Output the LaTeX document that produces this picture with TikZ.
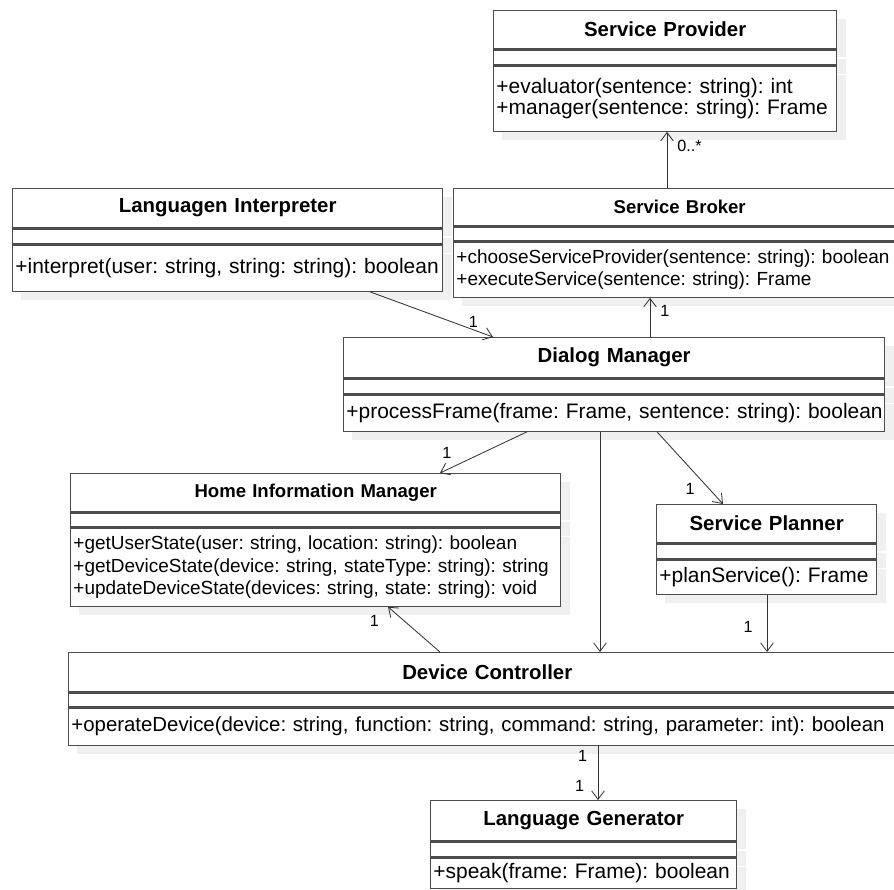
\documentclass[tikz,border=0pt]{standalone}
\usepackage{fontspec}
\setmainfont{Liberation Sans}
\usepackage{tikz}
\usetikzlibrary{arrows.meta,positioning,calc,shadows}

\tikzset{
	box/.style={draw=black!70,fill=white,line width=0.9pt,inner xsep=0.07cm,inner ysep=0pt,
		drop shadow={shadow xshift=0.22cm,shadow yshift=-0.22cm,fill=black!6,opacity=1}},
	class title/.style 2 args={box,text width=#1,minimum height=#2,align=center,
		font=\bfseries\fontsize{14.5}{17}\selectfont},
	class blank/.style 2 args={box,text width=#1,minimum height=#2},
	class ops/.style 2 args={box,text width=#1,minimum height=#2,align=left,
		font=\fontsize{14.9}{15}\selectfont\frenchspacing},
	small/.style={font=\bfseries\fontsize{13.2}{16}\selectfont},
	small ops/.style={font=\fontsize{13.5}{16}\selectfont\frenchspacing}
}

\begin{document}
\begin{tikzpicture}[->,>={Straight Barb[length=6pt,width=9pt]},x=0.025cm,y=-0.025cm]
	\useasboundingbox (0,0) rectangle (894,889);
	
	% classes
	\node[class title={8.435cm}{0.95cm},anchor=north west] (sp) at (493,10) {Service Provider};
	\node[class blank={8.435cm}{0.375cm},below=0pt of sp] (sp0) {};
	\node[class ops={8.435cm}{1.625cm},below=0pt of sp0] (sp1) {\mbox{+evaluator(sentence: string): int}\\\mbox{+manager(sentence: string): Frame}};
	
	\node[class title={10.61cm}{0.975cm},anchor=north west] (li) at (12,188) {Languagen Interpreter};
	\node[class blank={10.61cm}{0.375cm},below=0pt of li] (li0) {};
	\node[class ops={10.61cm}{1.15cm},below=0pt of li0] (li1) {\mbox{+interpret(user: string, string: string): boolean}};
	
	\node[class title={11.16cm}{0.925cm},small,anchor=north west] (sb) at (453,188) {Service Broker};
	\node[class blank={11.16cm}{0.35cm},below=0pt of sb] (sb0) {};
	\node[class ops={11.16cm}{1.375cm},small ops,below=0pt of sb0] (sb1) {\mbox{+chooseServiceProvider(sentence: string): boolean}\\\mbox{+executeService(sentence: string): Frame}};
	
	\node[class title={13.385cm}{1cm},anchor=north west] (dm) at (343,337) {Dialog Manager};
	\node[class blank={13.385cm}{0.375cm},below=0pt of dm] (dm0) {};
	\node[class ops={13.385cm}{0.9cm},below=0pt of dm0] (dm1) {\mbox{+processFrame(frame: Frame, sentence: string): boolean}};
	
	\node[class title={12.11cm}{0.95cm},small,anchor=north west] (him) at (70,473) {Home Information Manager};
	\node[class blank={12.11cm}{0.35cm},below=0pt of him] (him0) {};
	\node[class ops={12.11cm}{1.95cm},small ops,below=0pt of him0] (him1) {\mbox{+getUserState(user: string, location: string): boolean}\\\mbox{+getDeviceState(device: string, stateType: string): string}\\\mbox{+updateDeviceState(devices: string, state: string): void}};
	
	\node[class title={5.36cm}{0.95cm},anchor=north west] (spl) at (656,504) {Service Planner};
	\node[class blank={5.36cm}{0.375cm},below=0pt of spl] (spl0) {};
	\node[class ops={5.36cm}{0.85cm},below=0pt of spl0] (spl1) {\mbox{+planService(): Frame}};
	
	\node[class title={20.785cm}{0.975cm},anchor=north west] (dc) at (68,652) {Device Controller};
	\node[class blank={20.785cm}{0.35cm},below=0pt of dc] (dc0) {};
	\node[class ops={20.785cm}{0.925cm},below=0pt of dc0,font=\fontsize{14.5}{15}\selectfont\frenchspacing] (dc1) {\mbox{+operateDevice(device: string, function: string, command: string, parameter: int): boolean}};
	
	\node[class title={7.51cm}{1cm},anchor=north west] (lg) at (430,800) {Language Generator};
	\node[class blank={7.51cm}{0.375cm},below=0pt of lg] (lg0) {};
	\node[class ops={7.51cm}{0.75cm},below=0pt of lg0] (lg1) {\mbox{+speak(frame: Frame): boolean}};
	
	% associations
	\path[every edge/.append style={draw=black!80,line width=0.6pt},
	every node/.style={font=\fontsize{11.5}{13}\selectfont,inner sep=1pt}]
	($(sb.north west)+(214,0)$) edge node[pos=0.75,right=6pt] {0..*} ($(sp1.south west)+(174,0)$)
	($(dm.north west)+(307,0)$) edge node[pos=0.67,right=6pt] {1} ($(sb1.south west)+(197,0)$)
	($(li1.south west)+(358,0)$) edge node[pos=0.84,above] {1} ($(dm.north west)+(150,0)$)
	($(dm1.south west)+(184,0)$) edge node[pos=0.92,above=7pt] {1} ($(him.north west)+(370,0)$)
	($(dm1.south west)+(314,0)$) edge node[pos=0.79,left=9pt] {1} ($(spl.north west)+(67,0)$)
	($(dm1.south west)+(257,0)$) edge ($(dc.north west)+(532,0)$)
	($(spl1.south west)+(111,0)$) edge node[pos=0.56,left=9pt] {1} ($(dc.north west)+(699,0)$)
	($(dc.north west)+(372,0)$) edge node[pos=0.68,left=17pt] {1} ($(him1.south west)+(318,0)$)
	($(dc1.south west)+(530,0)$) edge node[pos=0.19,left=6.5pt] {1} node[pos=0.74,left=8.5pt] {1} ($(lg.north west)+(168,0)$);
	
\end{tikzpicture}
\end{document}
